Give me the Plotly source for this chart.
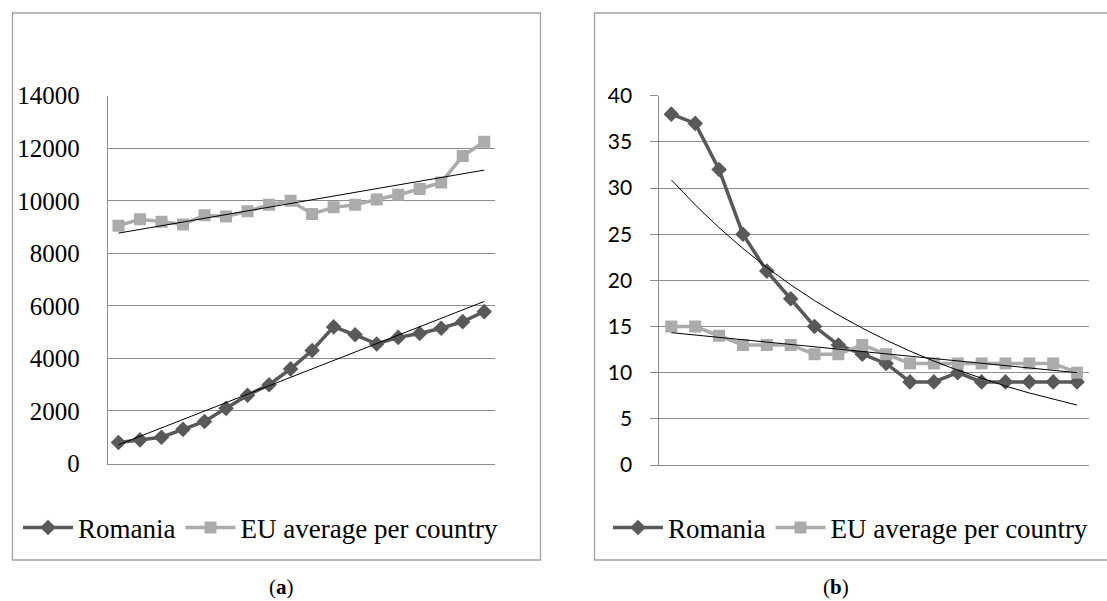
import numpy as np
import plotly.graph_objects as go

# ---------------- data ----------------
periods = list(range(1, 19))
romania_a = [800, 900, 1000, 1300, 1600, 2100, 2600, 3000, 3600, 4300,
             5200, 4900, 4550, 4800, 4950, 5150, 5400, 5780]
eu_a = [9050, 9300, 9200, 9100, 9450, 9400, 9600, 9850, 10000, 9500,
        9750, 9850, 10050, 10230, 10450, 10700, 11700, 12250]
romania_b = [38, 37, 32, 25, 21, 18, 15, 13, 12, 11, 9, 9, 10, 9, 9, 9, 9, 9]
eu_b = [15, 15, 14, 13, 13, 13, 12, 12, 13, 12, 11, 11, 11, 11, 11, 11, 11, 10]
yticks_a = [0, 2000, 4000, 6000, 8000, 10000, 12000, 14000]
yticks_b = [0, 5, 10, 15, 20, 25, 30, 35, 40]
series_names = ["Romania", "EU average per country"]
captions = ["a", "b"]

# ---------------- trends (Excel-style) ----------------
x = np.array(periods, dtype=float)
tr_rom_a = np.polyval(np.polyfit(x, romania_a, 1), x)
tr_eu_a = np.polyval(np.polyfit(x, eu_a, 1), x)
tr_rom_b = np.exp(np.polyval(np.polyfit(x, np.log(romania_b), 1), x))
tr_eu_b = np.polyval(np.polyfit(x, eu_b, 1), x)

W, H = 1107, 601
def px(v):
    return v / W
def py(v):
    return (H - v) / H

DARK = "#595959"
LIGHT = "#ABABAB"
GRID = "#8C8C8C"
SERIF = "Liberation Serif"
SANS = "Lato"

fig = go.Figure()

def add_panel(xa, ya, legend, rom, eu, tr_rom, tr_eu):
    fig.add_trace(go.Scatter(x=periods, y=rom, name=series_names[0], mode="lines+markers",
                             line=dict(color=DARK, width=3.5),
                             marker=dict(symbol="diamond", size=12, color=DARK),
                             xaxis=xa, yaxis=ya, legend=legend))
    fig.add_trace(go.Scatter(x=periods, y=eu, name=series_names[1], mode="lines+markers",
                             line=dict(color=LIGHT, width=3.5),
                             marker=dict(symbol="square", size=12, color=LIGHT),
                             xaxis=xa, yaxis=ya, legend=legend))
    for tr in (tr_rom, tr_eu):
        fig.add_trace(go.Scatter(x=periods, y=tr, mode="lines", showlegend=False,
                                 line=dict(color="black", width=1),
                                 hoverinfo="skip", xaxis=xa, yaxis=ya))

add_panel("x", "y", "legend", romania_a, eu_a, tr_rom_a, tr_eu_a)
add_panel("x2", "y2", "legend2", romania_b, eu_b, tr_rom_b, tr_eu_b)

xcommon = dict(range=[0.5, 18.5], showticklabels=False, ticks="", showgrid=False,
               zeroline=False, showline=True, linecolor=GRID, linewidth=1, fixedrange=True)
fig.update_layout(
    width=W, height=H,
    margin=dict(l=0, r=0, t=0, b=0, pad=0, autoexpand=False),
    paper_bgcolor="white", plot_bgcolor="white",
    xaxis=dict(domain=[px(107.7), px(495)], anchor="y", **xcommon),
    xaxis2=dict(domain=[px(659.4), px(1089)], anchor="y2", **xcommon),
    yaxis=dict(domain=[py(463.5), py(95.7)], anchor="x", range=[0, 14000],
               tickvals=yticks_a, ticktext=[str(v) for v in yticks_a],
               showgrid=True, gridcolor=GRID, gridwidth=1, zeroline=False,
               showline=True, linecolor=GRID, linewidth=1, ticks="",
               ticklabelstandoff=22, automargin=False,
               tickfont=dict(family=SERIF, size=25, color="black")),
    yaxis2=dict(domain=[py(465), py(95.7)], anchor="x2", range=[0, 40],
                tickvals=yticks_b, ticktext=[str(v) for v in yticks_b],
                showgrid=True, gridcolor=GRID, gridwidth=1, zeroline=False,
                showline=True, linecolor=GRID, linewidth=1,
                ticks="outside", ticklen=8, tickcolor=GRID, tickwidth=1,
                ticklabelstandoff=14, automargin=False,
                tickfont=dict(family=SANS, size=21, color="black")),
    legend=dict(orientation="h", x=px(18), xanchor="left", y=py(528), yanchor="middle",
                font=dict(family=SERIF, size=27, color="black"), itemwidth=50,
                bgcolor="rgba(0,0,0,0)", traceorder="normal"),
    legend2=dict(orientation="h", x=px(608), xanchor="left", y=py(528), yanchor="middle",
                 font=dict(family=SERIF, size=27, color="black"), itemwidth=50,
                 bgcolor="rgba(0,0,0,0)", traceorder="normal"),
    shapes=[
        dict(type="rect", xref="paper", yref="paper", x0=px(12.5), x1=px(540.5),
             y0=py(560), y1=py(13), line=dict(color="#A0A0A0", width=1.3), layer="below"),
        dict(type="rect", xref="paper", yref="paper", x0=px(594.5), x1=px(1112),
             y0=py(560), y1=py(13), line=dict(color="#A0A0A0", width=1.3), layer="below"),
    ],
    annotations=[
        dict(text="(<b>%s</b>)" % captions[0], xref="paper", yref="paper", x=px(281), y=py(587),
             xanchor="center", yanchor="middle", showarrow=False,
             font=dict(family=SERIF, size=21, color="black")),
        dict(text="(<b>%s</b>)" % captions[1], xref="paper", yref="paper", x=px(836), y=py(587),
             xanchor="center", yanchor="middle", showarrow=False,
             font=dict(family=SERIF, size=21, color="black")),
    ],
    showlegend=True,
)

fig.write_html("out.html", config={"displayModeBar": False},
               post_script="document.body.style.margin='0';document.body.style.padding='0';")
